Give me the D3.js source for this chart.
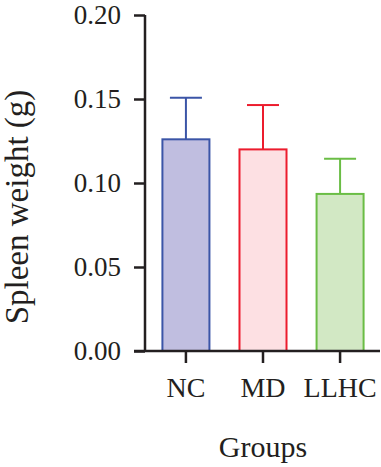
<!DOCTYPE html>
<html><head><meta charset="utf-8">
<script src="https://cdn.jsdelivr.net/npm/d3@7"></script>
<style>body{margin:0;background:#fff}svg{display:block}</style>
</head><body>
<script>
const categories = ["NC", "MD", "LLHC"];
const means = [0.126, 0.120, 0.0935];
const sds = [0.0248, 0.0264, 0.021];
const yTicks = [0.00, 0.05, 0.10, 0.15, 0.20];
const fills = ["#c0bee0", "#fde0e3", "#d2e8c4"];
const strokes = ["#3b55a7", "#ec1c2d", "#6abd45"];

const W = 381, H = 467;
const svg = d3.select("body").append("svg").attr("width", W).attr("height", H);
const font = "'Liberation Serif', 'Times New Roman', serif";

const y = d3.scaleLinear().domain([0, 0.20]).range([351, 15]);
const x = d3.scaleBand().domain(categories).range([147, 379]).paddingInner(0.39).paddingOuter(0.2);

// bars
const g = svg.append("g");
categories.forEach((c, i) => {
  const cx = x(c) + x.bandwidth() / 2;
  g.append("line").attr("x1", cx).attr("x2", cx)
    .attr("y1", y(means[i])).attr("y2", y(means[i] + sds[i]))
    .attr("stroke", strokes[i]).attr("stroke-width", 2);
  g.append("line").attr("x1", cx - 16).attr("x2", cx + 16)
    .attr("y1", y(means[i] + sds[i])).attr("y2", y(means[i] + sds[i]))
    .attr("stroke", strokes[i]).attr("stroke-width", 2);
  g.append("rect").attr("x", x(c)).attr("width", x.bandwidth())
    .attr("y", y(means[i])).attr("height", y(0) - y(means[i]))
    .attr("fill", fills[i]).attr("stroke", strokes[i]).attr("stroke-width", 2);
});

// y axis
const yAxis = d3.axisLeft(y).tickValues(yTicks).tickFormat(d3.format(".2f")).tickSize(11).tickPadding(13);
const ya = svg.append("g").attr("transform", "translate(145,0)").call(yAxis);
ya.select(".domain").attr("stroke", "#231f20").attr("stroke-width", 2.5).attr("d", "M0,15V351");
ya.selectAll(".tick line").attr("stroke", "#231f20").attr("stroke-width", 2.5);
ya.selectAll("text").attr("font-family", font).attr("font-size", 27).attr("fill", "#231f20");

// x axis
const xAxis = d3.axisBottom(x).tickSize(12).tickPadding(14);
const xa = svg.append("g").attr("transform", "translate(0,351)").call(xAxis);
xa.select(".domain").attr("stroke", "#231f20").attr("stroke-width", 2.5).attr("d", "M134,0H380");
xa.selectAll(".tick line").attr("stroke", "#231f20").attr("stroke-width", 2.5);
xa.selectAll("text").attr("font-family", font).attr("font-size", 28).attr("fill", "#231f20");

// labels
svg.append("text").attr("x", 263).attr("y", 457).attr("text-anchor", "middle")
  .attr("font-family", font).attr("font-size", 30).attr("fill", "#231f20").text("Groups");
svg.append("text").attr("transform", "translate(28,207) rotate(-90)").attr("text-anchor", "middle")
  .attr("font-family", font).attr("font-size", 33).attr("fill", "#231f20").text("Spleen weight (g)");
</script>
</body></html>
